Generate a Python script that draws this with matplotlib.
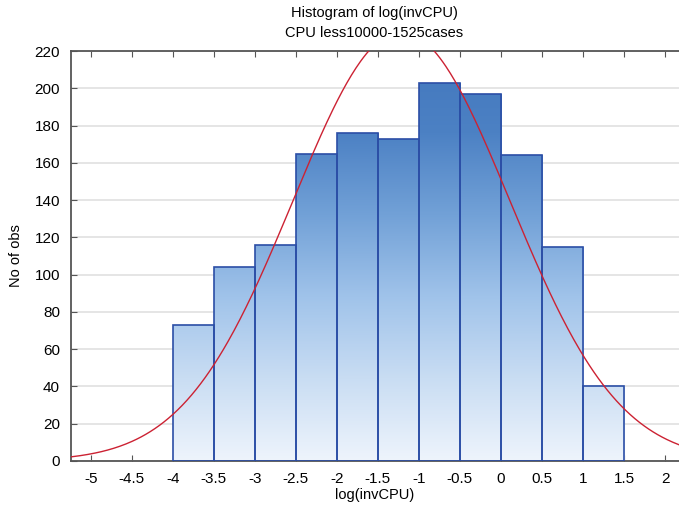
"""Histogram of log(invCPU) with fitted normal curve."""

import numpy as np
import matplotlib
matplotlib.use("Agg")
import matplotlib.pyplot as plt
from matplotlib.colors import LinearSegmentedColormap

# bin edges and counts
bin_edges = [-4.0, -3.5, -3.0, -2.5, -2.0, -1.5, -1.0, -0.5, 0.0, 0.5, 1.0, 1.5]
counts = [73, 104, 116, 165, 176, 173, 203, 197, 164, 115, 40]
x_ticks = [-5, -4.5, -4, -3.5, -3, -2.5, -2, -1.5, -1, -0.5, 0, 0.5, 1, 1.5, 2]
y_ticks = [0, 20, 40, 60, 80, 100, 120, 140, 160, 180, 200, 220]

plt.rcParams["font.family"] = ["Liberation Sans", "DejaVu Sans"]

fig = plt.figure(figsize=(6.79, 5.16), dpi=100)
ax = fig.add_axes([71 / 679, 55 / 516, 608 / 679, 410 / 516])

xmin, xmax = -5.24, 2.17
ymin, ymax = 0, 220
ax.set_xlim(xmin, xmax)
ax.set_ylim(ymin, ymax)

# gradient fill, pale at the bottom, deeper blue towards the top of the axis
cmap = LinearSegmentedColormap.from_list(
    "bars", ["#eef4fc", "#c9ddf3", "#a0c3ea", "#72a1d7", "#4c81c4", "#4277bd"]
)
grad = np.linspace(0, 1, 256).reshape(-1, 1)

edges = np.array(bin_edges)
widths = np.diff(edges)
bars = ax.bar(edges[:-1], counts, width=widths, align="edge",
              facecolor="none", edgecolor="#2b4ea6", linewidth=1.2, zorder=3)
for bar in bars:
    img = ax.imshow(grad, cmap=cmap, aspect="auto", origin="lower",
                    extent=[xmin, xmax, ymin, ymax], zorder=2)
    img.set_clip_path(bar)

# normal curve fitted to the binned data
mids = (edges[:-1] + edges[1:]) / 2
cnt = np.array(counts)
n = cnt.sum()
mu = (mids * cnt).sum() / n
sd = np.sqrt((cnt * (mids - mu) ** 2).sum() / n)
xs = np.linspace(xmin, xmax, 400)
ys = n * widths[0] * np.exp(-0.5 * ((xs - mu) / sd) ** 2) / (sd * np.sqrt(2 * np.pi))
ax.plot(xs, ys, color="#cc2233", linewidth=1.0, zorder=4, clip_on=True)

ax.set_xticks(x_ticks)
ax.set_xticklabels([f"{t:g}" for t in x_ticks])
ax.set_yticks(y_ticks)
ax.yaxis.grid(True, color="#e0e0e0", linewidth=1.2, zorder=0)
ax.set_axisbelow(True)

ax.spines["right"].set_visible(False)
for side in ["left", "bottom", "top"]:
    ax.spines[side].set_color("#555555")
    ax.spines[side].set_linewidth(1.3)
ax.tick_params(axis="both", direction="in", length=4, color="#555555",
               labelsize=11, pad=8)
ax.tick_params(axis="x", top=True)

ax.set_xlabel("log(invCPU)", fontsize=10.5, labelpad=1)
ax.set_ylabel("No of obs", fontsize=10.5, labelpad=8)
fig.text(0.5 + 35 / 679, 1 - 13 / 516, "Histogram of log(invCPU)",
         ha="center", va="center", fontsize=10.5)
fig.text(0.5 + 35 / 679, 1 - 33 / 516, "CPU less10000-1525cases",
         ha="center", va="center", fontsize=10.5)

fig.savefig("out.png", dpi=100)
